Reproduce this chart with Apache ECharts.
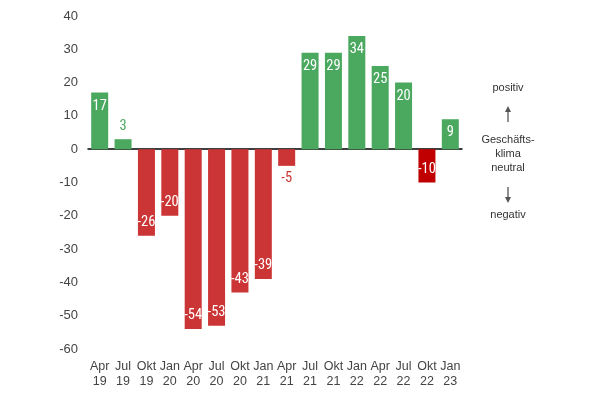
<!DOCTYPE html>
<html>
<head>
<meta charset="utf-8">
<script src="https://cdn.jsdelivr.net/npm/echarts@6/dist/echarts.min.js"></script>
<style>
html,body{margin:0;padding:0;background:#fff;}
#chart{width:600px;height:395px;}
</style>
</head>
<body>
<div id="chart"></div>
<script>
const categories = ['Apr 19','Jul 19','Okt 19','Jan 20','Apr 20','Jul 20','Okt 20','Jan 21','Apr 21','Jul 21','Okt 21','Jan 22','Apr 22','Jul 22','Okt 22','Jan 23'];
const values = [17, 3, -26, -20, -54, -53, -43, -39, -5, 29, 29, 34, 25, 20, -10, 9];
const highlighted = ['Okt 22'];
const yTicks = [40, 30, 20, 10, 0, -10, -20, -30, -40, -50, -60];

const GREEN = '#4aa85f';
const RED = '#cc3535';
const DARKRED = '#c00000';
const labelFont = '"Liberation Sans Narrow", "Roboto Condensed", Arial, sans-serif';
const axisFont = 'Arial, "Liberation Sans", sans-serif';

const data = values.map((v, i) => {
  const pos = v >= 0;
  const hl = highlighted.includes(categories[i]);
  const color = hl ? DARKRED : (pos ? GREEN : RED);
  const small = Math.abs(v) < 8 && !hl;
  return {
    value: v,
    itemStyle: { color: color },
    label: {
      show: true,
      position: small ? (pos ? 'top' : 'bottom') : (pos ? 'insideTop' : 'insideBottom'),
      distance: small ? 5 : 6,
      color: small ? color : '#ffffff',
      fontSize: 14.5,
      fontFamily: labelFont
    }
  };
});

function txt(t, y) {
  return { type: 'text', x: 508, y: y, style: { text: t, fill: '#333', fontSize: 11, fontFamily: axisFont, align: 'center', verticalAlign: 'middle' } };
}

const chart = echarts.init(document.getElementById('chart'));
chart.setOption({
  animation: false,
  grid: { left: 88, right: 138, top: 16, bottom: 46 },
  xAxis: [{
    type: 'category',
    data: categories,
    position: 'bottom',
    axisLine: { show: false, onZero: false },
    axisTick: { show: false },
    axisLabel: {
      interval: 0,
      hideOverlap: false,
      margin: 10,
      color: '#444',
      fontSize: 12.5,
      lineHeight: 15,
      fontFamily: axisFont,
      formatter: s => s.replace(' ', '\n')
    }
  }, {
    type: 'category',
    data: categories,
    position: 'bottom',
    axisLine: { show: true, onZero: true, lineStyle: { color: '#000', width: 1.5 } },
    axisTick: { show: false },
    axisLabel: { show: false }
  }],
  yAxis: {
    type: 'value',
    min: yTicks[yTicks.length - 1],
    max: yTicks[0],
    interval: 10,
    axisLine: { show: false },
    axisTick: { show: false },
    splitLine: { show: false },
    axisLabel: {
      margin: 10,
      color: '#444',
      fontSize: 13,
      fontFamily: axisFont
    }
  },
  series: [{
    type: 'bar',
    xAxisIndex: 0,
    data: data,
    barWidth: 17
  }],
  graphic: [
    txt('positiv', 88),
    { type: 'line', shape: { x1: 508, y1: 110, x2: 508, y2: 122 }, style: { stroke: '#555', lineWidth: 1.3 } },
    { type: 'polygon', shape: { points: [[505, 112], [511, 112], [508, 106]] }, style: { fill: '#555' } },
    txt('Geschäfts-', 140),
    txt('klima', 154),
    txt('neutral', 168),
    { type: 'line', shape: { x1: 508, y1: 187, x2: 508, y2: 199 }, style: { stroke: '#555', lineWidth: 1.3 } },
    { type: 'polygon', shape: { points: [[505, 197], [511, 197], [508, 203]] }, style: { fill: '#555' } },
    txt('negativ', 215)
  ]
});
</script>
</body>
</html>
